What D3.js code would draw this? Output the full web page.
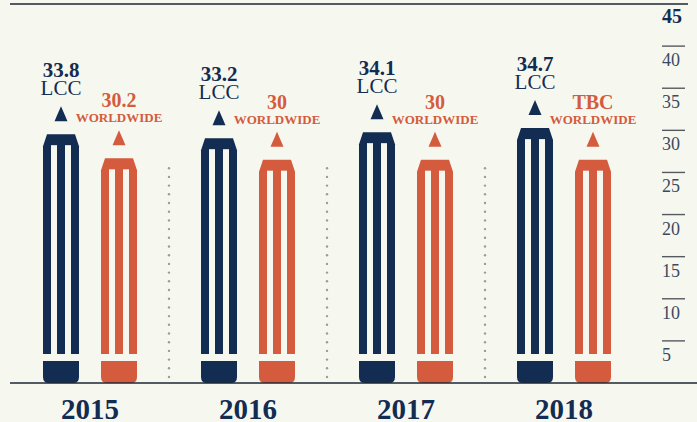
<!DOCTYPE html>
<html>
<head>
<meta charset="utf-8">
<script src="https://cdn.jsdelivr.net/npm/d3@7"></script>
<style>
	body { margin: 0; background: #f6f8f0; }
	svg { display: block; }
</style>
</head>
<body>
<div id="pencilChart"></div>
<script>
var years = ['2015', '2016', '2017', '2018'];
var lccValues = [33.8, 33.2, 34.1, 34.7];
var worldwideValues = [30.2, 30, 30, 30];
var worldwideLabels = ['30.2', '30', '30', 'TBC'];
var axisTicks = [5, 10, 15, 20, 25, 30, 35, 40];
var axisMax = 45;

var navy = '#132c52',
	orange = '#d45b3d',
	bg = '#f6f8f0',
	fontFam = '"Liberation Serif", serif';

function drawPencilChart() {
	var width = 697,
		height = 422;
	var baseY = 383;

	var svg = d3.select('#pencilChart').append('svg')
		.attr('width', width)
		.attr('height', height);

	svg.append('rect')
		.attr('width', width)
		.attr('height', height)
		.attr('fill', bg);

	// right axis scale (0 at baseline, 45 at the top rule)
	var yAxis = d3.scaleLinear().domain([0, axisMax]).range([baseY, 4]);
	// pencil body scale: body grows up from the top of the eraser
	var yPencil = d3.scaleLinear().domain([0, axisMax]).range([361, 59]);

	var x = d3.scaleBand().domain(years).range([11, 643]);
	var xSeries = d3.scalePoint().domain(['lcc', 'ww']).range([-29, 29]);

	var data = years.map(function(y, i) {
		return {year: y, lcc: lccValues[i], ww: worldwideValues[i], wwLabel: worldwideLabels[i]};
	});

	// separators between years
	years.slice(1).forEach(function(y) {
		var sx = x(y);
		var dots = d3.range(377, 166, -8.7);
		svg.selectAll(null)
			.data(dots)
			.enter().append('circle')
			.attr('cx', sx)
			.attr('cy', function(d) { return d; })
			.attr('r', 1.2)
			.attr('fill', '#9a9c98');
	});

	// axis rules
	svg.append('line')
		.attr('x1', 10).attr('x2', 688)
		.attr('y1', yAxis(axisMax)).attr('y2', yAxis(axisMax))
		.attr('stroke', '#1c2733').attr('stroke-width', 1.6);

	axisTicks.forEach(function(t) {
		svg.append('line')
			.attr('x1', 662).attr('x2', 685)
			.attr('y1', yAxis(t)).attr('y2', yAxis(t))
			.attr('stroke', '#555a5e').attr('stroke-width', 1.4);
		svg.append('text')
			.attr('x', 662).attr('y', yAxis(t) + 20)
			.attr('font-family', fontFam)
			.attr('font-size', 18)
			.attr('fill', '#3b4a5f')
			.text(t);
	});

	svg.append('text')
		.attr('x', 662).attr('y', yAxis(axisMax) + 19)
		.attr('font-family', fontFam)
		.attr('font-size', 20)
		.attr('font-weight', 'bold')
		.attr('fill', navy)
		.text(axisMax);

	var groups = svg.selectAll('.year')
		.data(data)
		.enter().append('g')
		.attr('class', 'year')
		.attr('transform', function(d) { return 'translate(' + (x(d.year) + x.bandwidth() / 2) + ',0)'; });

	function pencil(g, cx, top, color) {
		var p = d3.path();
		p.moveTo(cx - 14, top);
		p.lineTo(cx + 14, top);
		p.lineTo(cx + 18, top + 12);
		p.lineTo(cx + 18, 354);
		p.lineTo(cx - 18, 354);
		p.lineTo(cx - 18, top + 12);
		p.closePath();
		g.append('path').attr('d', p.toString()).attr('fill', color);

		[-10, 4].forEach(function(gx) {
			g.append('rect')
				.attr('x', cx + gx).attr('y', top + 11)
				.attr('width', 6).attr('height', 354 - top - 11 + 0.5)
				.attr('fill', bg);
		});

		// eraser block with rounded bottom
		var r = 6, e = d3.path();
		e.moveTo(cx - 18, 361);
		e.lineTo(cx + 18, 361);
		e.lineTo(cx + 18, baseY - r);
		e.quadraticCurveTo(cx + 18, baseY, cx + 18 - r, baseY);
		e.lineTo(cx - 18 + r, baseY);
		e.quadraticCurveTo(cx - 18, baseY, cx - 18, baseY - r);
		e.closePath();
		g.append('path').attr('d', e.toString()).attr('fill', color);

		// tip
		var tip = top - 28;
		g.append('path')
			.attr('d', 'M' + cx + ',' + tip + 'L' + (cx + 6.5) + ',' + (tip + 15) + 'L' + (cx - 6.5) + ',' + (tip + 15) + 'Z')
			.attr('fill', color);
		return tip;
	}

	groups.each(function(d) {
		var g = d3.select(this);

		var lx = xSeries('lcc'),
			tipL = pencil(g, lx, yPencil(d.lcc), navy);
		g.append('text')
			.attr('x', lx).attr('y', tipL - 29)
			.attr('text-anchor', 'middle')
			.attr('font-family', fontFam).attr('font-size', 21).attr('font-weight', 'bold')
			.attr('fill', navy)
			.text(d.lcc);
		g.append('text')
			.attr('x', lx).attr('y', tipL - 11)
			.attr('text-anchor', 'middle')
			.attr('font-family', fontFam).attr('font-size', 21)
			.attr('fill', navy)
			.text('LCC');

		var wx = xSeries('ww'),
			tipW = pencil(g, wx, yPencil(d.ww), orange);
		g.append('text')
			.attr('x', wx).attr('y', tipW - 23)
			.attr('text-anchor', 'middle')
			.attr('font-family', fontFam).attr('font-size', 20).attr('font-weight', 'bold')
			.attr('fill', orange)
			.text(d.wwLabel);
		g.append('text')
			.attr('x', wx).attr('y', tipW - 8)
			.attr('text-anchor', 'middle')
			.attr('font-family', fontFam).attr('font-size', 13).attr('font-weight', 'bold')
			.attr('fill', orange)
			.text('WORLDWIDE');

		// year label
		g.append('text')
			.attr('x', 0).attr('y', 419)
			.attr('text-anchor', 'middle')
			.attr('font-family', fontFam).attr('font-size', 29).attr('font-weight', 'bold')
			.attr('fill', navy)
			.text(d.year);
	});

	svg.append('line')
		.attr('x1', 10).attr('x2', width)
		.attr('y1', baseY).attr('y2', baseY)
		.attr('stroke', '#1c2733').attr('stroke-width', 1.6);
}

drawPencilChart();
</script>
</body>
</html>
